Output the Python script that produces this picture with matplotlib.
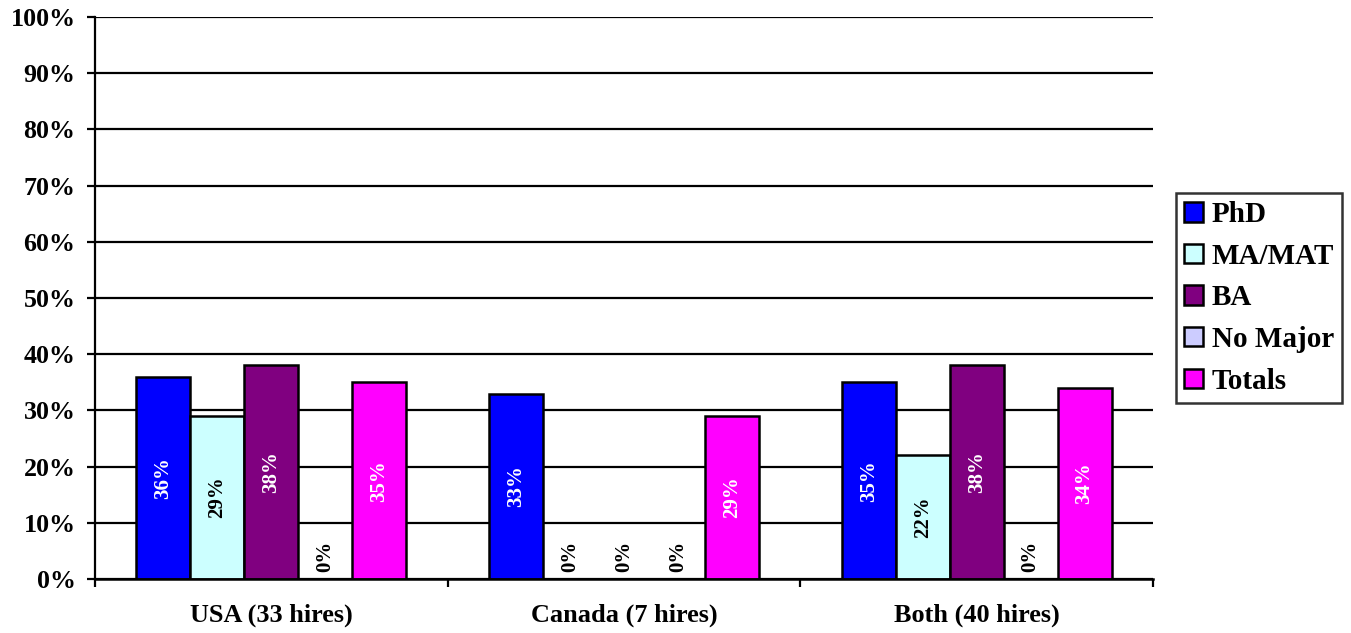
import numpy as np
import matplotlib.pyplot as plt
from matplotlib.ticker import NullFormatter

plt.rcParams['font.family'] = ['Liberation Serif', 'DejaVu Serif']
plt.rcParams['font.weight'] = 'bold'

groups = ["USA (33 hires)", "Canada (7 hires)", "Both (40 hires)"]
series = ["PhD", "MA/MAT", "BA", "No Major", "Totals"]
phd = [36, 33, 35]
ma_mat = [29, 0, 22]
ba = [38, 0, 38]
no_major = [0, 0, 0]
totals = [35, 29, 34]
values = [phd, ma_mat, ba, no_major, totals]

colors = ["#0000FF", "#CCFFFF", "#800080", "#CCCCFF", "#FF00FF"]
label_colors = ["white", "black", "white", "black", "white"]

fig = plt.figure(figsize=(13.51, 6.33), dpi=100)
ax = fig.add_axes([95 / 1351, 54 / 633, (1153 - 95) / 1351, (579 - 17) / 633])

x = np.arange(len(groups))
w = 0.153
for i, (name, vals) in enumerate(zip(series, values)):
    pos = x + (i - 2) * w
    ax.bar(pos, vals, width=w, color=colors[i], edgecolor="black",
           linewidth=1.8, label=name, zorder=3)
    for px, v in zip(pos, vals):
        c = label_colors[i] if v > 0 else "black"
        ax.text(px, max(v / 2, 4.1), f"{v}%", rotation=90, ha="center",
                va="center", color=c, fontsize=15, fontweight="bold", zorder=4)

ax.set_xlim(-0.5, 2.5)
ax.set_ylim(0, 100)
ax.set_yticks(range(0, 101, 10))
ax.set_yticklabels([f"{t}%" for t in range(0, 101, 10)], fontsize=18.7, fontweight="bold")
ax.yaxis.grid(True, color="black", linewidth=1.6, zorder=0)

# group labels centred, tick marks at group boundaries
ax.set_xticks([-0.5, 0.5, 1.5, 2.5])
ax.xaxis.set_major_formatter(NullFormatter())
ax.set_xticks(x, minor=True)
ax.set_xticklabels(groups, minor=True, fontsize=18.9, fontweight="bold")
ax.tick_params(axis="x", which="minor", length=0, pad=18)
ax.tick_params(axis="x", which="major", length=6, width=1.6, direction="out")
ax.tick_params(axis="y", length=6, width=1.6, direction="out", pad=8)

for s in ["top", "right"]:
    ax.spines[s].set_visible(False)
ax.spines["left"].set_linewidth(1.6)
ax.spines["bottom"].set_linewidth(1.8)
ax.spines["bottom"].set_zorder(5)

leg = fig.legend(loc="upper left", bbox_to_anchor=(1176 / 1351, 1 - 193 / 633),
                 frameon=True, fancybox=False, edgecolor="black",
                 prop={"weight": "bold", "size": 21}, handlelength=0.65,
                 handleheight=0.65, handletextpad=0.3, labelspacing=0.5,
                 borderpad=0.28, borderaxespad=0)
leg.get_frame().set_linewidth(1.8)

fig.savefig("out.png", dpi=100)
